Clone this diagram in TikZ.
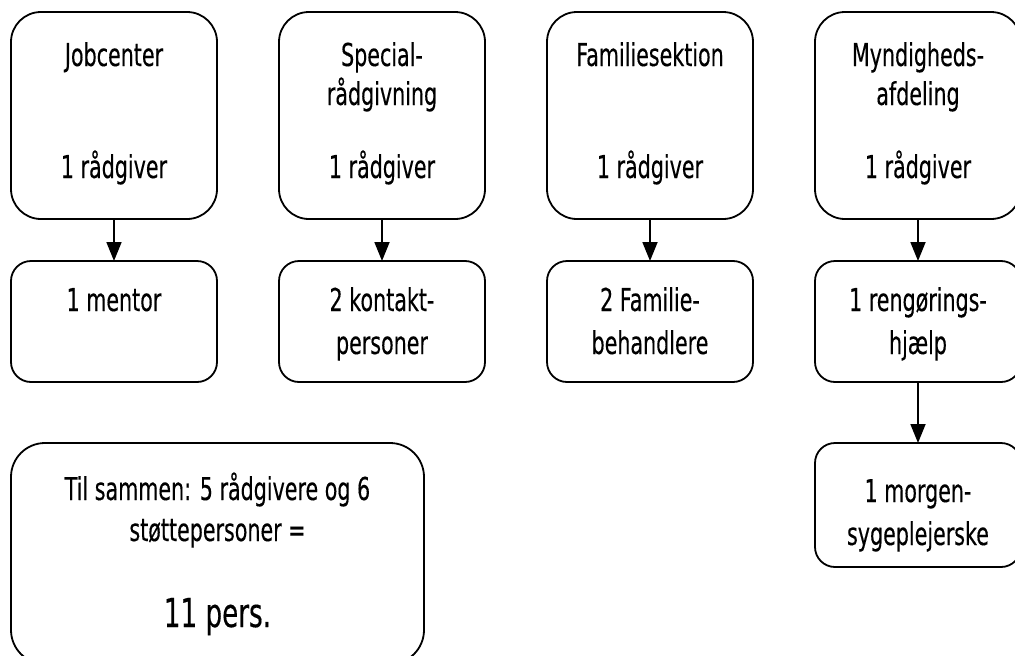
\documentclass[tikz,border=0pt]{standalone}
\usepackage{fontspec}
\setmainfont{DejaVu Sans}[FakeStretch=0.655, FakeBold=0.3]
\usetikzlibrary{arrows.meta}
\begin{document}
\begin{tikzpicture}[x=1pt,y=-1pt,
  box/.style={draw=black, line width=1.8pt, rounded corners=30pt, inner sep=0pt, outer sep=0pt, minimum width=206pt},
  topbox/.style={box, minimum height=207pt},
  subbox/.style={box, rounded corners=20pt, minimum height=121pt},
  lbl/.style={anchor=base, inner sep=0pt, font=\fontsize{31.5}{40}\selectfont},
  biglbl/.style={anchor=base, inner sep=0pt, font=\fontsize{40}{44}\selectfont},
  arr/.style={line width=1.8pt, -{Triangle[length=19pt,width=15pt]}}]
\useasboundingbox (0,0) rectangle (1015,656);

% departments (top row)
\node[topbox] (job)  at (114,115.5) {};
\node[topbox] (spec) at (382,115.5) {};
\node[topbox] (fam)  at (650,115.5) {};
\node[topbox] (myn)  at (918,115.5) {};

\node[lbl] (jobT)  at (114,66)  {Jobcenter};
\node[lbl] (jobR)  at (114,178) {1 rådgiver};
\node[lbl] (specT) at (382,66)  {Special-};
\node[lbl] (specU) at (382,105) {rådgivning};
\node[lbl] (specR) at (382,178) {1 rådgiver};
\node[lbl] (famT)  at (650,66)  {Familiesektion};
\node[lbl] (famR)  at (650,178) {1 rådgiver};
\node[lbl] (mynT)  at (918,66)  {Myndigheds-};
\node[lbl] (mynU)  at (918,105) {afdeling};
\node[lbl] (mynR)  at (918,178) {1 rådgiver};

% support persons
\node[subbox] (ment) at (114,321.5) {};
\node[subbox] (kont) at (382,321.5) {};
\node[subbox] (beh)  at (650,321.5) {};
\node[subbox] (reng) at (918,321.5) {};
\node[subbox, minimum height=124pt] (morg) at (918,505) {};

\node[lbl] (mentT) at (114,311) {1 mentor};
\node[lbl] (kontT) at (382,311) {2 kontakt-};
\node[lbl] (kontU) at (382,354) {personer};
\node[lbl] (behT)  at (650,311) {2 Familie-};
\node[lbl] (behU)  at (650,354) {behandlere};
\node[lbl] (rengT) at (918,311) {1 rengørings-};
\node[lbl] (rengU) at (918,354) {hjælp};
\node[lbl] (morgT) at (918,502) {1 morgen-};
\node[lbl] (morgU) at (918,545) {sygeplejerske};

% connectors
\draw[arr] (job.south)  -- (ment.north);
\draw[arr] (spec.south) -- (kont.north);
\draw[arr] (fam.south)  -- (beh.north);
\draw[arr] (myn.south)  -- (reng.north);
\draw[arr] (reng.south) -- (morg.north);

% total
\node[box, rounded corners=34pt, minimum width=413pt, minimum height=221pt] (tot) at (217.5,553.5) {};
\node[lbl] (totA) at (217.5,500) {Til sammen: 5 rådgivere og 6};
\node[lbl] (totB) at (217.5,541) {støttepersoner =};
\node[biglbl] (totC) at (217.5,627) {11 pers.};
\end{tikzpicture}
\end{document}
